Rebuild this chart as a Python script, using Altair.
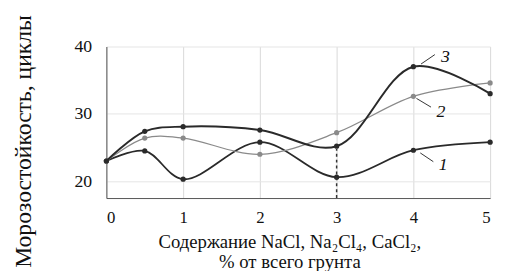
import altair as alt
import pandas as pd

x_vals = [0, 0.5, 1, 2, 3, 4, 5]
curve1 = [23.0, 24.5, 20.3, 25.8, 20.6, 24.6, 25.8]
curve2 = [23.0, 26.4, 26.4, 24.0, 27.2, 32.6, 34.6]
curve3 = [23.0, 27.4, 28.1, 27.6, 25.2, 37.0, 33.0]

series_names = ["1", "2", "3"]
series_colors = ["#2a2a2a", "#8a8a8a", "#2a2a2a"]
series_widths = [1.8, 1.3, 2.0]

x_ticks = [0, 1, 2, 3, 4, 5]
y_ticks = [20, 30, 40]

label_x = [4.33, 4.30, 4.36]
label_y = [22.4, 30.2, 38.5]
lead_x1 = [4.09, 4.04, 4.10]
lead_y1 = [24.2, 32.3, 37.4]
lead_x2 = [4.26, 4.23, 4.28]
lead_y2 = [22.9, 31.0, 38.8]

FONT = "Liberation Serif"

rows = []
for name, vals in zip(series_names, [curve1, curve2, curve3]):
    for xv, yv in zip(x_vals, vals):
        rows.append({"x": xv, "y": yv, "s": name})
df = pd.DataFrame(rows)

xs = alt.Scale(domain=[0, 5], nice=False)
ys = alt.Scale(domain=[17.5, 40], nice=False)

x_axis = alt.Axis(
    values=x_ticks, format="d",
    title=["Содержание NaCl, Na₂Cl₄, CaCl₂,", "% от всего грунта"],
    labelFont=FONT, titleFont=FONT,
    labelFontSize=17, labelColor="#111",
    titleFontSize=19, titleFontWeight="normal", titleColor="#111",
    titleX=186, titleY=35, titleBaseline="top",
    tickSize=0, labelPadding=12, domainColor="#555", gridColor="#d8d8d8",
    grid=True, titleLineHeight=21)
y_axis = alt.Axis(
    values=y_ticks, title="Морозостойкость, циклы",
    labelFont=FONT, titleFont=FONT,
    labelFontSize=18, labelColor="#111", titleFontSize=24,
    titleFontWeight="normal", titleColor="#111", titleY=96, titleX=-72,
    titleAngle=270, titleBaseline="bottom", titleAlign="center", tickSize=0,
    labelPadding=15, domainColor="#555", gridColor="#e4e4e4", grid=True)

layers = []
first = True
for name, col, w in zip(series_names, series_colors, series_widths):
    sub = df[df.s == name]
    base = alt.Chart(sub)
    if first:
        xe = alt.X("x:Q", scale=xs, axis=x_axis)
        ye = alt.Y("y:Q", scale=ys, axis=y_axis)
        first = False
    else:
        xe = alt.X("x:Q")
        ye = alt.Y("y:Q")
    layers.append(base.mark_line(interpolate="catmull-rom", color=col, strokeWidth=w)
                  .encode(x=xe, y=ye))
    layers.append(base.mark_circle(color=col, size=28, opacity=1)
                  .encode(x="x:Q", y="y:Q"))

# dotted vertical at x=3
vdf = pd.DataFrame({"x": [3], "y": [17.5], "y2": [24.8]})
layers.append(alt.Chart(vdf).mark_rule(color="#333", strokeDash=[3, 3], strokeWidth=1.5)
              .encode(x="x:Q", y="y:Q", y2="y2:Q"))

ldf = pd.DataFrame({"x": lead_x1, "y": lead_y1, "x2": lead_x2, "y2": lead_y2})
layers.append(alt.Chart(ldf).mark_rule(color="#333", strokeWidth=1)
              .encode(x="x:Q", y="y:Q", x2="x2:Q", y2="y2:Q"))

tdf = pd.DataFrame({"x": label_x, "y": label_y, "t": series_names})
layers.append(alt.Chart(tdf).mark_text(font=FONT, fontSize=18, fontStyle="italic",
                                       color="#111", align="left", baseline="middle")
              .encode(x="x:Q", y="y:Q", text="t:N"))

chart = alt.layer(*layers).properties(
    width=390, height=154, background="white",
    autosize=alt.AutoSizeParams(type="none"),
    padding={"left": 100, "top": 37, "right": 7, "bottom": 72},
).configure_view(stroke=None)

chart.save("out.html", embed_options={"renderer": "svg", "actions": False})
